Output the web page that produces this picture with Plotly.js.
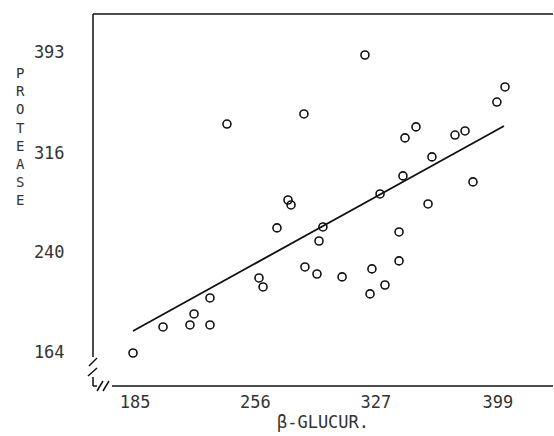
<!DOCTYPE html>
<html>
<head>
<meta charset="utf-8">
<script src="https://cdn.plot.ly/plotly-3.0.1.min.js"></script>
<style>html,body{margin:0;padding:0;background:#fff;}#chart{width:554px;height:436px;}</style>
</head>
<body>
<div id="chart"></div>
<script>
// Data
var glucur = [183.8, 201.5, 217.4, 219.8, 229.2, 229.2, 239.2, 258.1, 260.5, 268.7,
              275.2, 277.0, 284.6, 285.2, 292.3, 293.5, 295.8, 307.1, 320.6, 323.6,
              324.7, 332.4, 329.5, 340.7, 340.7, 343.0, 344.2, 350.7, 357.8, 360.1,
              373.7, 379.6, 384.3, 398.4, 403.2];
var protease = [163.2, 183.1, 184.6, 193.0, 205.2, 184.6, 338.0, 220.5, 213.6, 258.7,
                280.0, 276.2, 345.7, 228.9, 223.5, 248.7, 259.4, 221.3, 390.7, 208.3,
                227.4, 215.1, 284.6, 255.6, 233.5, 298.4, 327.4, 335.8, 277.0, 312.9,
                329.6, 332.7, 293.8, 354.8, 366.3];
var fitX = [183.8, 402.6];
var fitY = [180.0, 336.5];
var xTicks = [185, 256, 327, 399];
var yTicks = [164, 240, 316, 393];
var yTitle = 'PROTEASE';

var W = 554, H = 436, L = 93, R = 1, T = 14, B = 50;
var pw = W - L - R, ph = H - T - B;
function px(x) { return (x - L) / pw; }
function py(y) { return 1 - (y - T) / ph; }
function seg(x0, y0, x1, y1) {
  return {type: 'line', xref: 'paper', yref: 'paper',
          x0: px(x0), y0: py(y0), x1: px(x1), y1: py(y1),
          line: {color: '#111', width: 1.5}};
}

var font = 'DejaVu Sans Mono, Liberation Mono, monospace';
var txtColor = '#333';

var traces = [
  {x: glucur, y: protease, type: 'scatter', mode: 'markers',
   marker: {symbol: 'circle-open', size: 8, color: '#111', line: {width: 1.6, color: '#111'}},
   hoverinfo: 'skip'},
  {x: fitX, y: fitY, type: 'scatter', mode: 'lines',
   line: {color: '#111', width: 1.8}, hoverinfo: 'skip'}
];

var layout = {
  width: W, height: H,
  margin: {l: L, r: R, t: T, b: B, pad: 0},
  paper_bgcolor: '#fff', plot_bgcolor: '#fff',
  showlegend: false,
  font: {family: font, color: txtColor, size: 17},
  xaxis: {
    range: [160.2, 431.5], tickvals: xTicks, ticktext: xTicks.map(String),
    showgrid: false, zeroline: false, showline: false,
    ticks: 'outside', ticklen: 1, tickcolor: 'rgba(0,0,0,0)',
    tickfont: {family: font, size: 17, color: txtColor},
    title: {text: 'β-GLUCUR.', font: {family: font, size: 17, color: txtColor}, standoff: 2}
  },
  yaxis: {
    range: [138.0, 422.0], tickvals: yTicks, ticktext: yTicks.map(String),
    showgrid: false, zeroline: false, showline: false,
    ticks: 'outside', ticklen: 24, tickcolor: 'rgba(0,0,0,0)',
    tickfont: {family: font, size: 17, color: txtColor}
  },
  annotations: [{
    text: yTitle.split('').join('<br>'), xref: 'paper', yref: 'paper',
    x: px(20), y: py(137), showarrow: false, xanchor: 'center', yanchor: 'middle',
    font: {family: font, size: 14, color: txtColor}
  }],
  shapes: [
    seg(93, 14, 553, 14),          // top
    seg(93, 14, 93, 357),          // left (upper part)
    seg(89, 366, 97, 358),         // left break marks
    seg(88, 376, 97, 368),
    seg(93, 377, 93, 386),         // left (lower stub)
    seg(93, 386, 97, 386),         // bottom stub
    seg(97, 391, 103, 381),        // bottom break marks
    seg(103, 391, 109, 381),
    seg(112, 386, 553, 386)        // bottom
  ]
};

Plotly.newPlot('chart', traces, layout, {staticPlot: true, displayModeBar: false});
</script>
</body>
</html>
